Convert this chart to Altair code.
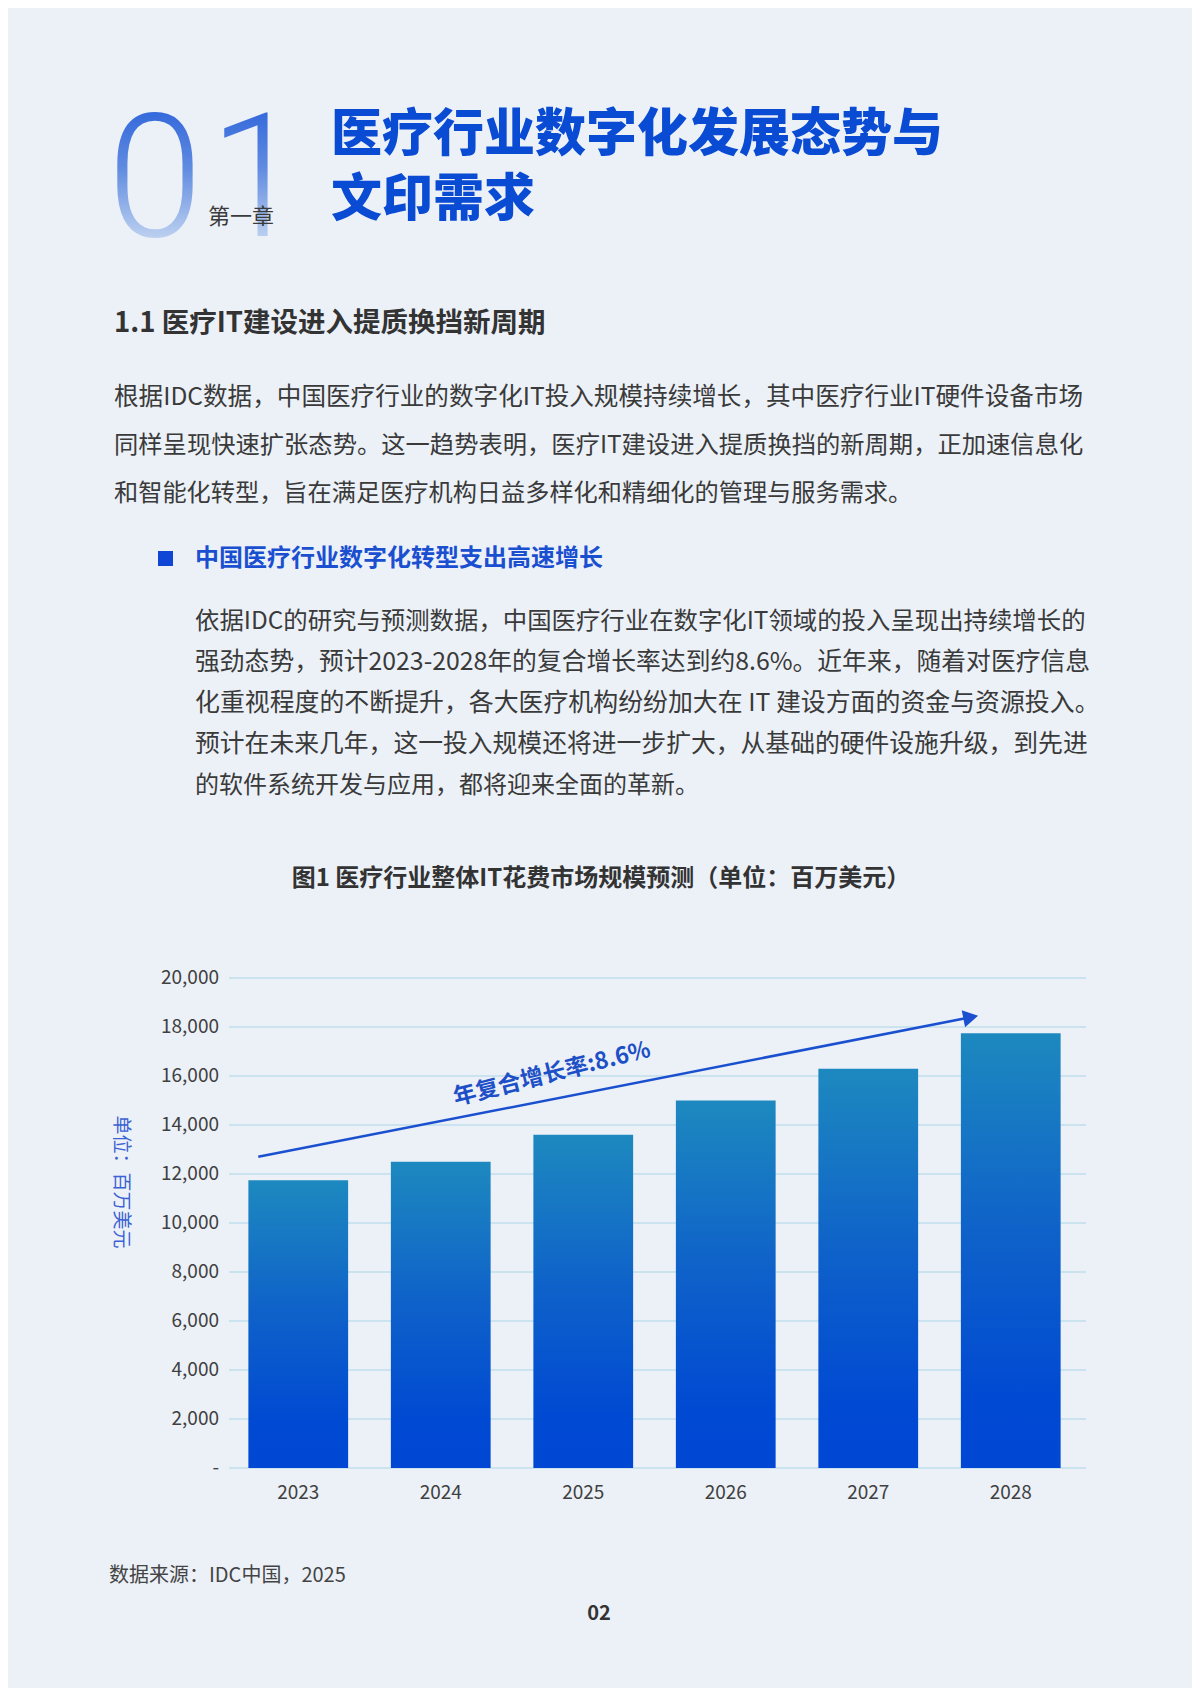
import altair as alt
import pandas as pd

# ---------------- data ----------------
years = ["2023", "2024", "2025", "2026", "2027", "2028"]
spend = [11750, 12500, 13600, 15000, 16300, 17750]
y_ticks = [0, 2000, 4000, 6000, 8000, 10000, 12000, 14000, 16000, 18000, 20000]
y_tick_labels = ["-", "2,000", "4,000", "6,000", "8,000", "10,000", "12,000",
                 "14,000", "16,000", "18,000", "20,000"]
arrow_years = ["2023", "2028"]
arrow_values = [12700, 18400]
cagr_label = "年复合增长率:8.6%"
y_title = "单位：百万美元"

chapter_no = ["0", "1"]
chapter_label = "第一章"
title_lines = ["医疗行业数字化发展态势与", "文印需求"]
section_title = "1.1 医疗IT建设进入提质换挡新周期"
para1 = [
    "根据IDC数据，中国医疗行业的数字化IT投入规模持续增长，其中医疗行业IT硬件设备市场",
    "同样呈现快速扩张态势。这一趋势表明，医疗IT建设进入提质换挡的新周期，正加速信息化",
    "和智能化转型，旨在满足医疗机构日益多样化和精细化的管理与服务需求。",
]
bullet_title = "中国医疗行业数字化转型支出高速增长"
para2 = [
    "依据IDC的研究与预测数据，中国医疗行业在数字化IT领域的投入呈现出持续增长的",
    "强劲态势，预计2023-2028年的复合增长率达到约8.6%。近年来，随着对医疗信息",
    "化重视程度的不断提升，各大医疗机构纷纷加大在 IT 建设方面的资金与资源投入。",
    "预计在未来几年，这一投入规模还将进一步扩大，从基础的硬件设施升级，到先进",
    "的软件系统开发与应用，都将迎来全面的革新。",
]
chart_title = "图1 医疗行业整体IT花费市场规模预测（单位：百万美元）"
source_note = "数据来源：IDC中国，2025"
page_no = "02"

# ---------------- styles ----------------
FONT = "Noto Sans CJK SC"
BG = "#ecf1f8"
BLUE = "#0a4bd4"
TEXT = "#3a3a3a"
M = 8  # page margin
# per-line font sizes that imitate the justified paragraphs of the page
para1_sizes = [24.6, 24.3, 24.2]
para2_sizes = [24.4, 24.8, 24.9, 24.8, 24.0]


def px(v):
    return v - M


xscale = alt.Scale(domain=years, range=[px(227), px(1082)], paddingInner=0.3, paddingOuter=0.15)
yscale = alt.Scale(domain=[0, 20000], range=[px(1468), px(978)], nice=False, zero=True)

bar_df = pd.DataFrame({"year": years, "value": spend})
tick_df = pd.DataFrame({"v": y_ticks, "label": y_tick_labels})
arrow_df = pd.DataFrame({"year": arrow_years, "value": arrow_values})
one = pd.DataFrame({"k": [0]})

bar_grad = alt.LinearGradient(
    gradient="linear",
    stops=[alt.GradientStop(color="#1d89bf", offset=0),
           alt.GradientStop(color="#0f62c9", offset=0.45),
           alt.GradientStop(color="#0049d3", offset=0.85),
           alt.GradientStop(color="#0048d4", offset=1)],
    x1=0, x2=0, y1=0, y2=1,
)
digit_grad = alt.LinearGradient(
    gradient="linear",
    stops=[alt.GradientStop(color="#1a55d8", offset=0),
           alt.GradientStop(color="#5f8ae0", offset=0.45),
           alt.GradientStop(color="#c9daf2", offset=0.85),
           alt.GradientStop(color="#e2ebf7", offset=1)],
    x1=0, x2=0, y1=0, y2=1,
)

layers = []

# gridlines
layers.append(
    alt.Chart(tick_df).mark_rule(color="#cbe3ee", strokeWidth=2).encode(
        y=alt.Y("v:Q", scale=yscale, axis=None),
        x=alt.value(px(229)), x2=alt.value(px(1086)),
    )
)
# bars
layers.append(
    alt.Chart(bar_df).mark_bar(color=bar_grad).encode(
        x=alt.X("year:N", scale=xscale, axis=None),
        y=alt.Y("value:Q", scale=yscale, axis=None),
    )
)
# y tick labels
layers.append(
    alt.Chart(tick_df).mark_text(align="right", baseline="middle", font=FONT,
                                 fontSize=19, color="#404040").encode(
        y=alt.Y("v:Q", scale=yscale, axis=None),
        x=alt.value(px(219)),
        text="label:N",
    )
)
# x labels
layers.append(
    alt.Chart(bar_df).mark_text(baseline="middle", font=FONT, fontSize=19,
                                color="#404040").encode(
        x=alt.X("year:N", scale=xscale, axis=None),
        y=alt.value(px(1493)),
        text="year:N",
    )
)
# arrow line + head
layers.append(
    alt.Chart(arrow_df).mark_line(color="#1a50cf", strokeWidth=2.5, xOffset=-40).encode(
        x=alt.X("year:N", scale=xscale, axis=None),
        y=alt.Y("value:Q", scale=yscale, axis=None),
    )
)
layers.append(
    alt.Chart(arrow_df.iloc[[1]]).mark_point(shape="triangle-right", filled=True, size=300,
                                             angle=349, opacity=1, color="#1a50cf",
                                             xOffset=-40).encode(
        x=alt.X("year:N", scale=xscale, axis=None),
        y=alt.Y("value:Q", scale=yscale, axis=None),
    )
)
# CAGR label
layers.append(
    alt.Chart(one).mark_text(angle=346, font=FONT, fontSize=23, fontWeight="bold",
                             color="#1d4fc7", align="center", baseline="middle").encode(
        x=alt.value(px(552)), y=alt.value(px(1074)), text=alt.value(cagr_label)
    )
)
# y title (vertical)
layers.append(
    alt.Chart(one).mark_text(angle=90, font=FONT, fontSize=19, color="#3b62d3",
                             align="center", baseline="middle").encode(
        x=alt.value(px(121)), y=alt.value(px(1182)), text=alt.value(y_title)
    )
)


def text_layer(s, x, y, size, color=TEXT, weight="normal", align="left", baseline="middle"):
    return alt.Chart(one).mark_text(font=FONT, fontSize=size, fontWeight=weight, align=align,
                                    baseline=baseline, color=color).encode(
        x=alt.value(px(x)), y=alt.value(px(y)), text=alt.value(s)
    )


# big chapter number
for ch, cx in zip(chapter_no, [155, 257]):
    layers.append(
        alt.Chart(one).mark_text(font="Roboto", fontSize=172, fontWeight=300, align="center",
                                 baseline="alphabetic", fill=digit_grad).encode(
            x=alt.value(px(cx)), y=alt.value(px(236)), text=alt.value(ch)
        )
    )
layers.append(text_layer(chapter_label, 241, 217, 22, color="#3b3b3b", align="center"))

# title
layers.append(text_layer(title_lines[0], 331, 136, 51, color=BLUE, weight=900))
layers.append(text_layer(title_lines[1], 331, 201, 51, color=BLUE, weight=900))

# section title
layers.append(text_layer(section_title, 114, 324, 27.5, color="#333333", weight="bold"))

# paragraph 1
for i, line in enumerate(para1):
    layers.append(text_layer(line, 114, 398 + i * 48, para1_sizes[i]))

# bullet
layers.append(
    alt.Chart(one).mark_rect(color="#1046d6").encode(
        x=alt.value(px(158)), x2=alt.value(px(173)),
        y=alt.value(px(551)), y2=alt.value(px(566)),
    )
)
layers.append(text_layer(bullet_title, 195, 559, 24, color="#1a4fd0", weight="bold"))

# paragraph 2
for i, line in enumerate(para2):
    layers.append(text_layer(line, 195, 622 + i * 41, para2_sizes[i]))

# chart title
layers.append(text_layer(chart_title, 601, 879, 24, color="#333333", weight="bold", align="center"))

# source & page number
layers.append(text_layer(source_note, 109, 1576, 20, color="#444444"))
layers.append(text_layer(page_no, 599, 1614, 20, color="#333333", weight="bold", align="center"))

chart = alt.layer(*layers).properties(
    width=1184, height=1680, autosize="none", padding=0, background=BG
).configure_view(stroke=None)

chart.save("out.html", embed_options={"renderer": "svg", "actions": False})
